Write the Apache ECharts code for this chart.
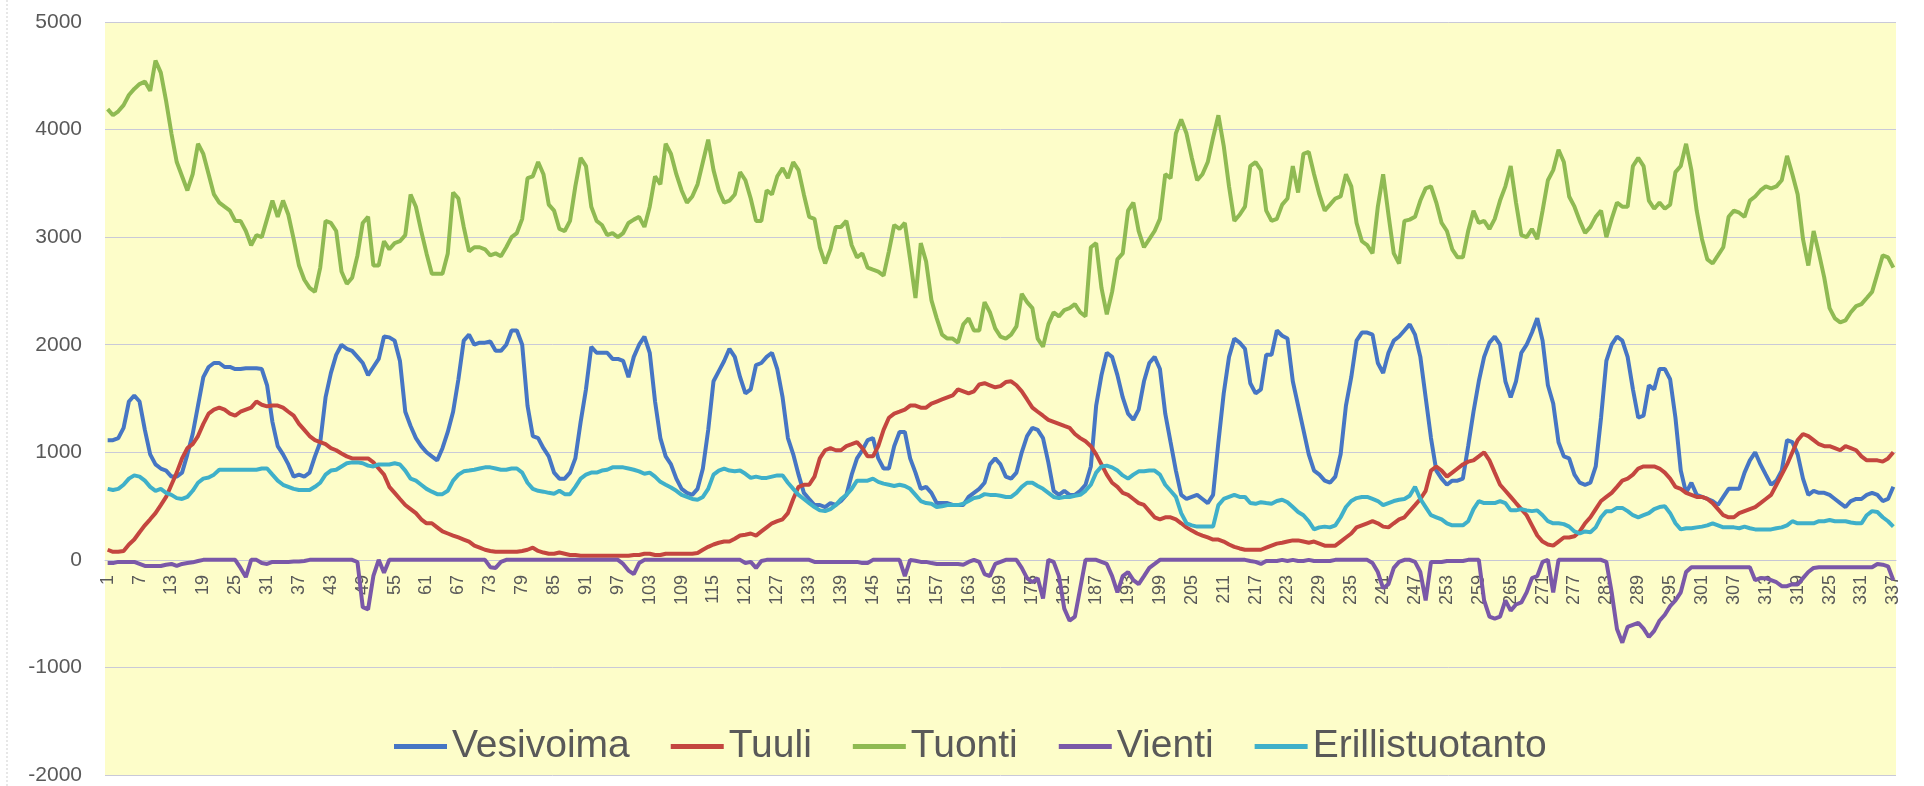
<!DOCTYPE html>
<html>
<head>
<meta charset="utf-8">
<title>Sähkön tuotanto</title>
<script src="https://cdn.jsdelivr.net/npm/echarts@6.0.0/dist/echarts.min.js"></script>
<style>
  html, body { margin: 0; padding: 0; background: #fff; }
  #chart { width: 1924px; height: 786px; }
</style>
</head>
<body>
<div id="chart"></div>
<script>
// tunnit 1..337
var hours = Array.from({ length: 337 }, (_, i) => String(i + 1));

var vesivoima = [
  1113,1113,1132,1227,1472,1528,1472,1208,981,887,
  849,830,774,774,811,981,1170,1434,1698,1793,
  1830,1830,1793,1793,1774,1774,1781,1781,1781,1774,
  1623,1283,1057,981,887,774,792,774,811,962,
  1094,1510,1736,1906,2000,1962,1943,1887,1830,1717,
  1793,1868,2076,2068,2038,1849,1377,1245,1132,1057,
  1000,962,925,1038,1189,1377,1679,2038,2094,2000,
  2019,2019,2030,1943,1943,2000,2132,2132,2000,1434,
  1151,1132,1038,962,811,755,755,811,943,1283,
  1585,1981,1925,1925,1925,1868,1868,1849,1698,1887,
  2000,2076,1925,1472,1132,962,887,755,660,623,
  604,660,849,1208,1660,1755,1849,1962,1887,1698,
  1547,1585,1811,1830,1887,1925,1774,1510,1132,981,
  792,623,566,510,510,491,528,510,547,604,
  792,943,1019,1113,1132,943,849,849,1057,1189,
  1189,943,811,660,679,623,528,528,528,510,
  510,510,585,623,660,717,887,943,887,774,
  755,811,1000,1151,1227,1208,1132,906,642,604,
  642,604,604,642,698,868,1434,1717,1925,1887,
  1717,1510,1359,1302,1396,1660,1830,1887,1774,1359,
  1094,830,604,566,585,604,566,528,604,1094,
  1547,1887,2057,2019,1962,1642,1547,1585,1906,1906,
  2132,2083,2057,1660,1434,1208,981,830,792,736,
  717,774,981,1434,1698,2038,2113,2113,2094,1830,
  1736,1925,2038,2076,2132,2189,2094,1887,1510,1132,
  830,755,698,736,736,755,1057,1377,1660,1887,
  2019,2076,2000,1660,1510,1660,1925,2000,2113,2246,
  2038,1623,1453,1094,962,943,792,717,698,717,
  868,1321,1849,2000,2076,2038,1887,1585,1321,1340,
  1623,1585,1774,1774,1679,1321,830,623,717,604,
  585,566,547,510,585,660,660,660,811,925,
  1000,887,792,698,736,830,1113,1094,981,755,
  604,642,623,623,604,566,528,491,547,566,
  566,604,623,604,547,566,679
];

var tuuli = [
  94,75,75,83,143,189,257,321,377,434,
  509,585,698,811,943,1038,1075,1151,1264,1359,
  1396,1415,1396,1359,1340,1377,1396,1415,1472,1442,
  1427,1434,1434,1415,1377,1340,1264,1208,1151,1113,
  1094,1075,1038,1019,989,962,943,943,943,943,
  906,849,792,679,623,566,510,472,434,377,
  340,340,302,264,245,226,208,189,170,132,
  113,94,83,75,75,75,75,75,83,94,
  113,83,68,57,57,68,57,45,45,38,
  38,38,38,38,38,38,38,38,38,45,
  45,57,57,45,45,57,57,57,57,57,
  57,64,94,121,143,159,170,170,196,226,
  234,245,226,264,302,340,359,377,434,566,
  679,698,698,774,943,1019,1038,1019,1019,1057,
  1075,1094,1038,962,962,1057,1208,1321,1359,1377,
  1396,1434,1434,1415,1415,1453,1472,1491,1510,1528,
  1585,1566,1547,1566,1630,1642,1623,1604,1615,1653,
  1660,1623,1566,1491,1415,1377,1340,1302,1283,1264,
  1245,1227,1170,1132,1102,1057,981,887,792,717,
  679,623,604,566,528,510,453,396,377,396,
  396,377,340,302,272,245,226,208,189,189,
  170,143,121,106,94,94,94,94,113,132,
  151,159,170,181,181,170,159,170,151,132,
  132,132,170,208,245,302,321,340,359,340,
  309,302,340,377,396,453,509,566,642,830,
  868,830,774,811,849,887,913,925,962,1000,
  925,811,698,642,585,528,472,415,321,226,
  170,143,132,170,208,208,219,264,340,396,
  472,547,585,623,679,736,755,792,849,868,
  868,868,849,811,755,679,660,623,604,585,
  585,566,528,472,415,396,396,434,453,472,
  491,528,566,604,698,792,887,1000,1113,1170,
  1151,1113,1075,1057,1057,1038,1019,1057,1038,1019,
  962,925,925,925,913,943,1000
];

var tuonti = [
  4190,4133,4170,4227,4321,4378,4423,4446,4360,4642,
  4529,4265,3963,3698,3566,3434,3585,3868,3774,3585,
  3397,3321,3283,3246,3151,3151,3057,2925,3019,3000,
  3170,3340,3189,3340,3208,2981,2736,2604,2529,2491,
  2717,3151,3132,3057,2680,2566,2623,2830,3132,3189,
  2736,2736,2962,2887,2944,2962,3019,3397,3283,3057,
  2849,2660,2660,2660,2849,3415,3359,3095,2868,2906,
  2906,2887,2830,2849,2823,2906,3000,3038,3170,3548,
  3566,3698,3585,3302,3246,3076,3057,3151,3472,3736,
  3661,3283,3151,3113,3019,3038,3000,3038,3132,3163,
  3189,3095,3283,3566,3491,3868,3774,3585,3434,3321,
  3378,3491,3698,3906,3623,3434,3321,3340,3397,3604,
  3529,3359,3151,3151,3434,3397,3566,3642,3548,3698,
  3623,3397,3189,3170,2906,2755,2887,3095,3095,3151,
  2925,2812,2849,2717,2698,2680,2642,2868,3113,3076,
  3132,2793,2434,2944,2774,2415,2245,2094,2057,2057,
  2019,2189,2245,2132,2132,2396,2302,2151,2076,2057,
  2094,2170,2472,2396,2340,2057,1981,2189,2302,2264,
  2321,2340,2378,2302,2264,2906,2944,2528,2283,2491,
  2793,2849,3246,3321,3057,2906,2981,3057,3170,3585,
  3548,3963,4095,3963,3736,3529,3585,3698,3925,4133,
  3849,3472,3151,3208,3283,3661,3698,3623,3246,3151,
  3170,3302,3359,3661,3415,3774,3793,3585,3397,3246,
  3302,3359,3378,3585,3472,3132,2962,2925,2849,3283,
  3585,3208,2849,2755,3151,3163,3189,3340,3453,3472,
  3321,3132,3057,2887,2812,2812,3057,3246,3132,3151,
  3076,3170,3340,3472,3661,3321,3019,3000,3076,2981,
  3246,3529,3623,3812,3698,3378,3283,3151,3038,3095,
  3189,3246,3000,3170,3321,3283,3283,3661,3736,3661,
  3340,3264,3321,3264,3302,3604,3661,3868,3623,3246,
  2981,2793,2755,2830,2906,3189,3246,3227,3189,3340,
  3378,3434,3472,3453,3472,3529,3755,3585,3397,2981,
  2736,3057,2849,2623,2340,2245,2208,2227,2302,2359,
  2378,2434,2491,2660,2830,2812,2717
];

var vienti = [
  -30,-30,-19,-19,-19,-19,-38,-57,-57,-57,
  -57,-45,-38,-57,-38,-30,-23,-11,0,0,
  0,0,0,0,0,-75,-160,0,0,-30,
  -38,-19,-19,-19,-19,-15,-15,-10,0,0,
  0,0,0,0,0,0,0,-20,-440,-460,
  -150,0,-120,0,0,0,0,0,0,0,
  0,0,0,0,0,0,0,0,0,0,
  0,0,-68,-75,-19,0,0,0,0,0,
  0,0,0,0,0,0,0,0,0,0,
  0,0,0,0,0,0,0,-38,-100,-132,
  -30,0,0,0,0,0,0,0,0,0,
  0,0,0,0,0,0,0,0,0,0,
  -30,-19,-75,-10,0,0,0,0,0,0,
  0,0,0,-19,-19,-19,-19,-19,-19,-19,
  -19,-19,-30,-30,0,0,0,0,0,0,
  -151,0,-8,-19,-19,-30,-38,-38,-38,-38,
  -38,-45,-19,0,-19,-132,-151,-38,-19,0,
  0,0,-75,-170,-208,-170,-358,0,-19,-151,
  -453,-566,-528,-264,0,0,0,-19,-38,-151,
  -302,-151,-113,-189,-226,-151,-75,-38,0,0,
  0,0,0,0,0,0,0,0,0,0,
  0,0,0,0,0,-10,-19,-38,-10,-10,
  -10,0,-10,0,-10,-10,0,-10,-10,-10,
  -10,0,0,0,0,0,0,0,-30,-113,
  -264,-226,-75,-19,0,0,-19,-113,-377,-19,
  -19,-19,-11,-11,-11,-11,0,0,0,-377,
  -528,-547,-528,-377,-472,-415,-396,-302,-170,-151,
  -19,0,-302,0,0,0,0,0,0,0,
  0,0,-19,-302,-642,-770,-623,-604,-585,-640,
  -717,-660,-566,-510,-430,-377,-302,-113,-68,-68,
  -68,-68,-68,-68,-68,-68,-68,-68,-68,-68,
  -189,-170,-170,-189,-208,-245,-245,-226,-230,-170,
  -113,-75,-68,-68,-68,-68,-68,-68,-68,-68,
  -68,-68,-68,-38,-45,-60,-189
];

var erillistuotanto = [
  660,649,660,698,755,785,774,736,679,642,
  660,623,604,574,566,585,642,717,755,766,
  792,838,838,838,838,838,838,838,838,849,
  849,792,736,698,679,660,649,649,649,679,
  717,792,830,838,868,898,906,906,898,876,
  868,887,887,887,898,887,830,755,736,698,
  660,634,611,611,642,736,792,823,830,838,
  849,860,860,849,838,838,849,849,811,717,
  660,642,634,623,615,642,611,611,679,755,
  792,811,811,830,838,860,860,860,849,838,
  823,800,811,774,725,698,672,642,604,585,
  566,559,585,660,792,830,849,830,823,830,
  800,762,774,762,762,774,785,785,717,660,
  604,566,528,491,460,453,472,509,566,604,
  660,736,736,736,755,725,709,698,687,698,
  687,660,604,547,528,521,491,498,509,509,
  509,521,547,574,585,611,604,604,596,585,
  585,623,679,717,717,687,660,623,585,574,
  585,585,596,604,642,698,811,868,876,860,
  830,785,755,792,823,823,830,830,792,698,
  642,585,434,340,321,309,309,309,309,509,
  566,585,604,585,585,528,521,536,528,521,
  547,559,536,491,445,415,359,283,302,309,
  302,321,396,491,547,574,585,585,566,547,
  509,528,547,559,566,596,679,566,491,415,
  396,377,340,321,321,321,359,472,547,528,
  528,528,547,528,460,460,472,460,453,460,
  415,359,340,340,332,309,264,245,264,257,
  302,396,453,453,483,483,453,415,396,415,
  434,472,491,498,434,340,283,294,294,302,
  309,321,340,321,302,302,302,294,309,294,
  283,283,283,283,294,302,321,359,340,340,
  340,340,359,359,370,359,359,359,347,340,
  340,415,453,445,396,359,309
];

var seriesNames = ['Vesivoima', 'Tuuli', 'Tuonti', 'Vienti', 'Erillistuotanto'];
var seriesColors = ['#4676c4', '#c4463f', '#8fba52', '#7a58a8', '#3fb0c9'];
var seriesData = [vesivoima, tuuli, tuonti, vienti, erillistuotanto];

var chartDom = document.getElementById('chart');
var myChart = echarts.init(chartDom, null, { renderer: 'canvas' });
var font = "'Liberation Sans', Arial, sans-serif";

// x-akseli piirretään nollatasolle: 0 on 215 px ylempänä kuin alareuna
var zeroOffset = -215;

var option = {
  animation: false,
  color: seriesColors,
  grid: {
    left: 105, right: 28, top: 22, bottom: 11,
    show: true, backgroundColor: '#fdfdc9', borderWidth: 0
  },
  legend: {
    data: seriesNames,
    left: 389, top: 722,
    icon: 'rect',
    itemWidth: 53, itemHeight: 5, itemGap: 41,
    textStyle: { fontFamily: font, fontSize: 39, color: '#595959' }
  },
  xAxis: {
    type: 'category',
    data: hours,
    boundaryGap: true,
    position: 'bottom',
    offset: zeroOffset,
    axisLine: { onZero: false, lineStyle: { color: '#c6c6d4', width: 1 } },
    axisTick: { show: false },
    axisLabel: {
      interval: 5, rotate: 90, margin: 15,
      fontFamily: font, fontSize: 18, color: '#595959'
    },
    splitLine: { show: false }
  },
  yAxis: {
    type: 'value',
    min: -2000, max: 5000, interval: 1000,
    axisLine: { show: false },
    axisTick: { show: false },
    axisLabel: {
      margin: 23, fontFamily: font, fontSize: 21, color: '#595959',
      formatter: (v) => String(v)
    },
    splitLine: { lineStyle: { color: '#c9c9d8', width: 1 } }
  },
  graphic: [{
    type: 'line',
    shape: { x1: 7, y1: 0, x2: 7, y2: 786 },
    style: { stroke: '#d0d0d0', lineWidth: 1, lineDash: [2, 2] }
  }],
  series: seriesNames.map((name, idx) => {
    return {
      name: name,
      type: 'line',
      data: seriesData[idx],
      showSymbol: false,
      lineStyle: { width: 4, color: seriesColors[idx] },
      emphasis: { disabled: true }
    };
  })
};

myChart.setOption(option);
</script>
</body>
</html>
